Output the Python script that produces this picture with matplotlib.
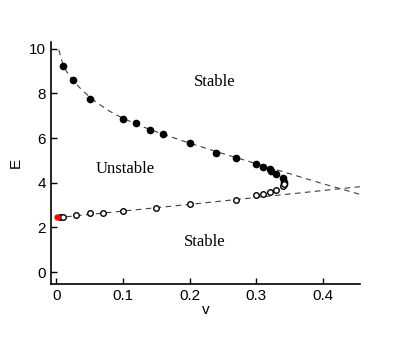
import numpy as np
import matplotlib
matplotlib.use("Agg")
import matplotlib.pyplot as plt

# upper branch (filled markers)
v_up = [0.01, 0.025, 0.05, 0.10, 0.12, 0.14, 0.16, 0.20, 0.24, 0.27,
        0.30, 0.31, 0.32, 0.322, 0.33, 0.34, 0.341, 0.342]
E_up = [9.22, 8.60, 7.76, 6.86, 6.65, 6.35, 6.16, 5.77, 5.35, 5.10,
        4.82, 4.70, 4.63, 4.54, 4.40, 4.19, 4.04, 3.96]

# lower branch (open markers)
v_lo = [0.006, 0.01, 0.03, 0.05, 0.07, 0.10, 0.15, 0.20, 0.27,
        0.30, 0.31, 0.32, 0.33, 0.34, 0.342]
E_lo = [2.45, 2.46, 2.55, 2.64, 2.64, 2.75, 2.85, 3.06, 3.24,
        3.45, 3.50, 3.59, 3.68, 3.84, 3.93]

# red point
v_red = [0.001]
E_red = [2.45]

# dashed fitted curves
v_fit_up = [0.004, 0.007, 0.01, 0.015, 0.025, 0.04, 0.06, 0.08, 0.10, 0.13,
            0.16, 0.20, 0.25, 0.30, 0.35, 0.40, 0.455]
E_fit_up = [9.95, 9.60, 9.32, 9.00, 8.58, 8.10, 7.60, 7.20, 6.88, 6.50,
            6.17, 5.77, 5.30, 4.85, 4.40, 3.95, 3.48]
v_fit_lo = [0.0, 0.10, 0.20, 0.30, 0.40, 0.455]
E_fit_lo = [2.43, 2.73, 3.03, 3.34, 3.65, 3.82]

fig = plt.figure(figsize=(4.03, 3.38), dpi=100)
ax = fig.add_axes([0.127, 0.160, 0.766, 0.716])

ax.plot(v_fit_up, E_fit_up, ls=(0, (5, 4)), color="0.25", lw=0.8)
ax.plot(v_fit_lo, E_fit_lo, ls=(0, (5, 4)), color="0.25", lw=0.8)
ax.plot(v_up, E_up, "o", color="black", ms=4.5)
ax.plot(v_lo, E_lo, "o", mfc="white", mec="black", mew=1.0, ms=4)
ax.plot(v_red, E_red, "o", color="red", ms=3.5)

serif = "Liberation Serif"
ax.text(0.237, 8.5, "Stable", family=serif, fontsize=12, ha="center", va="center")
ax.text(0.103, 4.6, "Unstable", family=serif, fontsize=12, ha="center", va="center")
ax.text(0.222, 1.35, "Stable", family=serif, fontsize=12, ha="center", va="center")

ax.set_xlim(-0.0075, 0.455)
ax.set_ylim(-0.53, 10.3)
ax.set_xticks([0, 0.1, 0.2, 0.3, 0.4])
ax.set_xticklabels(["0", "0.1", "0.2", "0.3", "0.4"])
ax.set_yticks([0, 2, 4, 6, 8, 10])

for lab in ax.get_xticklabels() + ax.get_yticklabels():
    lab.set_family("Liberation Sans")
    lab.set_fontsize(11)
ax.tick_params(direction="in", length=4, width=1, pad=4)

ax.spines["right"].set_visible(False)
ax.spines["top"].set_visible(False)
ax.spines["left"].set_linewidth(1.2)
ax.spines["bottom"].set_linewidth(1.2)

ax.set_xlabel("v", family="Liberation Sans", fontsize=11, labelpad=0)
ax.set_ylabel("E", family="Liberation Sans", fontsize=11, labelpad=4)

fig.savefig("out.png", dpi=100)
